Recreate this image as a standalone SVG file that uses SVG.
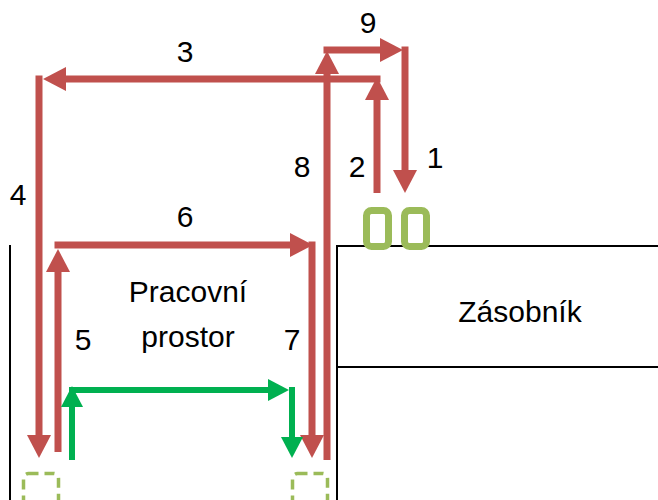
<svg xmlns="http://www.w3.org/2000/svg" width="658" height="500" viewBox="0 0 658 500">
<style>
.red{fill:none;stroke:#C0504D;stroke-width:7;stroke-linejoin:miter}
.grn{fill:none;stroke:#00B050;stroke-width:6;stroke-linejoin:miter}
.wall{fill:none;stroke:#000;stroke-width:2}
.slot{fill:none;stroke:#9BBB59;stroke-width:7}
.dash{fill:none;stroke:#9BBB59;stroke-width:3.5;stroke-dasharray:10 6}
text{font-family:"Liberation Sans",Arial,sans-serif;font-size:30px;fill:#000;text-anchor:middle}
</style>
<defs>
<marker id="ahR" markerUnits="userSpaceOnUse" markerWidth="24" markerHeight="26" refX="2" refY="12" orient="auto">
<path d="M0,0 L23,12 L0,24 z" fill="#C0504D"/>
</marker>
<marker id="ahG" markerUnits="userSpaceOnUse" markerWidth="22" markerHeight="24" refX="2" refY="11" orient="auto">
<path d="M0,0 L21,11 L0,22 z" fill="#00B050"/>
</marker>
</defs>
<g id="walls">
<line class="wall" x1="10" y1="245" x2="10" y2="500"/>
</g>
<g id="zasobnik">
<path class="wall" d="M658,246 H337 V500"/>
<line class="wall" x1="337" y1="367" x2="658" y2="367"/>
<text x="520" y="322">Zásobník</text>
</g>
<g id="pracovni-prostor">
<text x="188" y="302">Pracovní</text>
<text x="188" y="347">prostor</text>
</g>
<g id="slots">
<rect class="slot" x="366.5" y="210.5" width="22" height="36" rx="5"/>
<rect class="slot" x="404.5" y="210.5" width="22" height="36" rx="5"/>
</g>
<g id="pos-left">
<rect class="dash" x="23.5" y="473.5" width="35" height="35" rx="5"/>
</g>
<g id="pos-right">
<rect class="dash" x="292.5" y="473.5" width="35" height="35" rx="5"/>
</g>
<g id="connectors">
<path class="red" d="M405,46.5 V172" marker-end="url(#ahR)"/>
<path class="red" d="M323.5,50 H382" marker-end="url(#ahR)"/>
<path class="red" d="M377,193 V98" marker-end="url(#ahR)"/>
<path class="red" d="M380.5,79 H64" marker-end="url(#ahR)"/>
<path class="red" d="M39,75.5 V437" marker-end="url(#ahR)"/>
<path class="red" d="M58,452 V270" marker-end="url(#ahR)"/>
<path class="red" d="M54.5,245 H292" marker-end="url(#ahR)"/>
<path class="red" d="M312,241.5 V437" marker-end="url(#ahR)"/>
<path class="red" d="M327,460 V72" marker-end="url(#ahR)"/>
<path class="grn" d="M72,460 V405" marker-end="url(#ahG)"/>
<path class="grn" d="M69,390 H270" marker-end="url(#ahG)"/>
<path class="grn" d="M292,387 V439" marker-end="url(#ahG)"/>
</g>
<g id="labels">
<text x="368" y="33">9</text>
<text x="185" y="62">3</text>
<text x="435" y="168">1</text>
<text x="357" y="177">2</text>
<text x="302" y="177">8</text>
<text x="18" y="205">4</text>
<text x="185" y="227">6</text>
<text x="83" y="350">5</text>
<text x="292" y="350">7</text>
</g>
</svg>
